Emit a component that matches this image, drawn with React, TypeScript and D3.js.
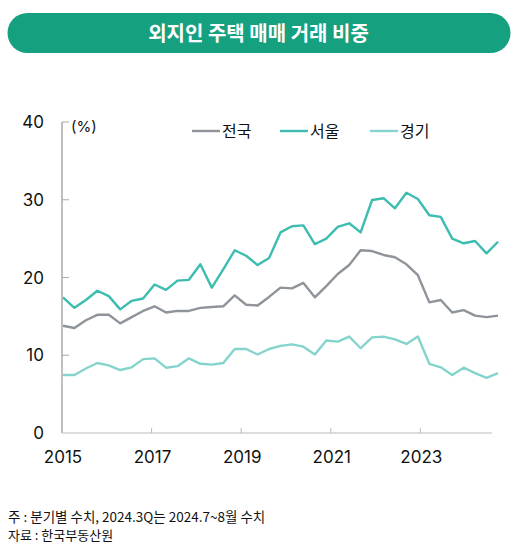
import React from "react";
import * as d3 from "d3";

const quarters = [
  "2015Q1","2015Q2","2015Q3","2015Q4","2016Q1","2016Q2","2016Q3","2016Q4",
  "2017Q1","2017Q2","2017Q3","2017Q4","2018Q1","2018Q2","2018Q3","2018Q4",
  "2019Q1","2019Q2","2019Q3","2019Q4","2020Q1","2020Q2","2020Q3","2020Q4",
  "2021Q1","2021Q2","2021Q3","2021Q4","2022Q1","2022Q2","2022Q3","2022Q4",
  "2023Q1","2023Q2","2023Q3","2023Q4","2024Q1","2024Q2","2024Q3",
];

const nation = [13.8,13.5,14.5,15.2,15.2,14.1,14.9,15.7,16.3,15.5,15.7,15.7,16.1,
  16.2,16.3,17.7,16.5,16.4,17.5,18.7,18.6,19.3,17.45,18.9,20.45,
  21.6,23.5,23.4,22.9,22.6,21.7,20.3,16.8,17.1,15.5,15.8,15.1,14.9,15.1];
const seoul = [17.45,16.1,17.1,18.3,17.6,15.9,17.0,17.3,19.1,18.4,19.6,19.7,21.7,
  18.7,21.05,23.5,22.8,21.6,22.5,25.8,26.6,26.7,24.3,25.0,26.5,
  26.97,25.8,29.97,30.2,28.9,30.9,30.1,28.0,27.8,25.0,24.4,24.7,23.1,24.6];
const gyeonggi = [7.46,7.46,8.3,9.0,8.7,8.1,8.45,9.5,9.6,8.4,8.6,9.6,8.9,
  8.8,9.0,10.8,10.8,10.1,10.8,11.2,11.4,11.1,10.1,11.9,11.75,
  12.4,10.9,12.3,12.4,12.05,11.45,12.4,8.9,8.45,7.46,8.4,7.7,7.1,7.7];

const seriesNames = ["전국", "서울", "경기"];
const seriesColors = ["#8f949b", "#3dbcb0", "#84d4cd"];
const yTicks = [0, 10, 20, 30, 40];
const xTickYears = [2015, 2017, 2019, 2021, 2023];

const title = "외지인 주택 매매 거래 비중";
const unit = "(%)";
const note1 = "주 : 분기별 수치, 2024.3Q는 2024.7~8월 수치";
const note2 = "자료 : 한국부동산원";

const KR = "'Noto Sans CJK KR', 'Noto Sans', sans-serif";
const NUM = "Inter, 'Noto Sans', sans-serif";

export default function App() {
  const x = d3.scaleLinear().domain([0, quarters.length - 1]).range([63, 498]);
  const yearAxis = d3.scaleLinear().domain([2015, 2024.6]).range([62, 492]);
  const y = d3.scaleLinear().domain([0, 40]).range([433, 122]);
  const line = d3
    .line<number>()
    .x((_, i) => x(i))
    .y((d) => y(d))
    .curve(d3.curveLinear);
  const allSeries = [nation, seoul, gyeonggi];
  const legendX = [192, 280, 370];

  return (
    <svg
      width={530}
      height={555}
      style={{ position: "absolute", left: 0, top: 0, background: "#fff" }}
    >
      <rect x={7.5} y={13} width={503} height={40} rx={20} fill="#15a07f" />
      <text
        x={258.5}
        y={40.5}
        textAnchor="middle"
        fill="#fff"
        fontFamily={KR}
        fontWeight={700}
        fontSize={20}
      >
        {title}
      </text>

      {/* y axis */}
      <line x1={62} x2={62} y1={y(40)} y2={y(0)} stroke="#aaa" strokeWidth={1.5} />
      {yTicks.map((t) => (
        <g key={t}>
          {t > 0 && (
            <line x1={62} x2={69} y1={y(t)} y2={y(t)} stroke="#aaa" strokeWidth={1} />
          )}
          <text
            x={44}
            y={y(t)}
            dy="0.36em"
            textAnchor="end"
            fontFamily={NUM}
            fontSize={17}
            fill="#111"
          >
            {t}
          </text>
        </g>
      ))}
      <text x={71} y={y(40) + 10} fontFamily={NUM} fontSize={15} fill="#111">
        {unit}
      </text>

      {/* x axis */}
      <line x1={62} x2={492} y1={y(0)} y2={y(0)} stroke="#bbb" strokeWidth={1} />
      {xTickYears.map((yr) => (
        <g key={yr}>
          {yr > 2015 && (
            <line
              x1={yearAxis(yr)}
              x2={yearAxis(yr)}
              y1={y(0)}
              y2={y(0) - 5}
              stroke="#bbb"
              strokeWidth={1}
            />
          )}
          <text
            x={yearAxis(yr) + 1}
            y={463}
            textAnchor="middle"
            fontFamily={NUM}
            fontSize={17}
            fill="#111"
          >
            {yr}
          </text>
        </g>
      ))}

      {/* lines */}
      {allSeries.map((s, k) => (
        <path
          key={k}
          d={line(s) || ""}
          fill="none"
          stroke={seriesColors[k]}
          strokeWidth={2.4}
          strokeLinejoin="round"
        />
      ))}

      {/* legend */}
      {seriesNames.map((n, k) => (
        <g key={n}>
          <line
            x1={legendX[k]}
            x2={legendX[k] + 28}
            y1={131}
            y2={131}
            stroke={seriesColors[k]}
            strokeWidth={2.4}
          />
          <text
            x={legendX[k] + 30}
            y={131}
            dy="0.36em"
            fontFamily={KR}
            fontSize={16}
            fill="#111"
          >
            {n}
          </text>
        </g>
      ))}

      {/* notes */}
      <text x={8} y={522} fontFamily={KR} fontSize={13.5} fill="#111">
        {note1}
      </text>
      <text x={8} y={540} fontFamily={KR} fontSize={13} fill="#111">
        {note2}
      </text>
    </svg>
  );
}
